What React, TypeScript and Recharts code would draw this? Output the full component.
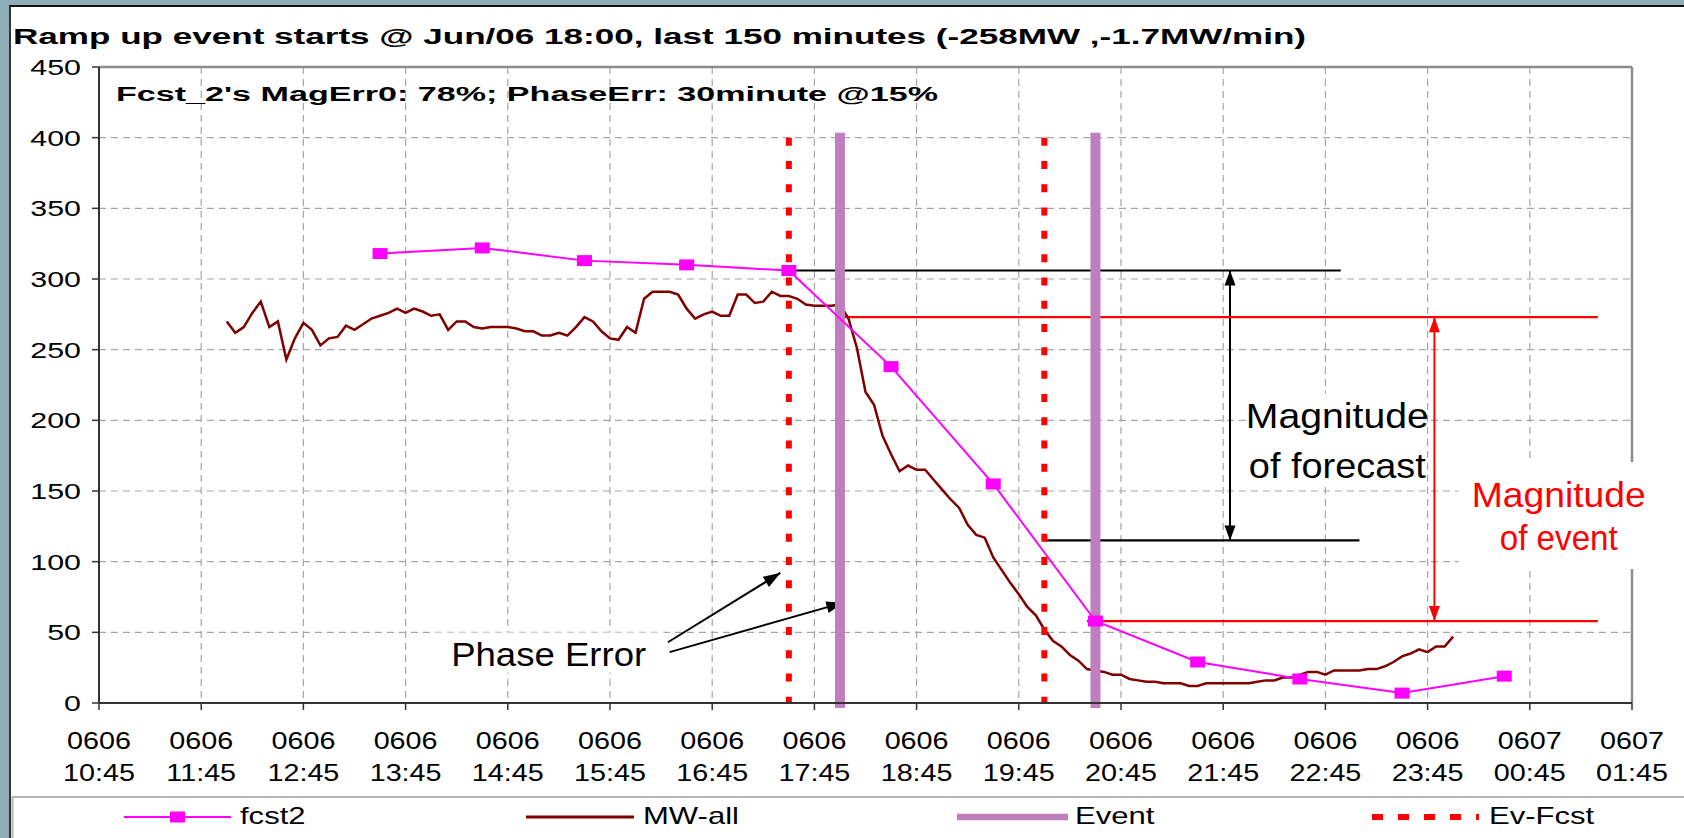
import React from 'react';
import { CartesianGrid, Line, LineChart, ReferenceDot, ReferenceLine, XAxis, YAxis } from 'recharts';

const WIDTH = 1684;
const HEIGHT = 838;
const FONT = "Arial, 'Liberation Sans', Helvetica, sans-serif";

// x axis: one tick per hour, two-line labels
const tickDates = ['0606', '0606', '0606', '0606', '0606', '0606', '0606', '0606', '0606', '0606', '0606', '0606', '0606', '0606', '0607', '0607'];
const tickTimes = ['10:45', '11:45', '12:45', '13:45', '14:45', '15:45', '16:45', '17:45', '18:45', '19:45', '20:45', '21:45', '22:45', '23:45', '00:45', '01:45'];
const yTicks = [0, 50, 100, 150, 200, 250, 300, 350, 400, 450];

// fcst2, hourly
const fcstTimes = ['13:30', '14:30', '15:30', '16:30', '17:30', '18:30', '19:30', '20:30', '21:30', '22:30', '23:30', '00:30'];
const fcstValues = [318, 322, 313, 310, 306, 238, 155, 58, 29, 17, 7, 19];

// MW-all, 5 minute samples starting 12:00
const mwStart = '12:00';
const mwValues = [
  270, 262, 266, 276, 284, 266, 270, 243, 258, 269, 264, 253,
  258, 259, 267, 264, 268, 272, 274, 276, 279, 276, 279, 277,
  274, 275, 264, 270, 270, 266, 265, 266, 266, 266, 265, 263,
  263, 260, 260, 262, 260, 266, 273, 270, 263, 258, 257, 266,
  262, 286, 291, 291, 291, 289, 279, 272, 275, 277, 274, 274,
  289, 289, 283, 284, 291, 288, 288, 286, 282, 281, 281, 281,
  282, 272, 251, 220, 211, 189, 176, 164, 168, 165, 165, 158,
  151, 144, 138, 126, 119, 117, 103, 94, 85, 77, 68, 62,
  52, 44, 40, 34, 30, 24, 23, 22, 20, 20, 17, 16,
  15, 15, 14, 14, 14, 12, 12, 14, 14, 14, 14, 14,
  14, 15, 16, 16, 18, 18, 20, 22, 22, 20, 23, 23,
  23, 23, 24, 24, 26, 29, 33, 35, 38, 36, 40, 40,
  47,
];

// event windows (actual and forecast)
const eventTimes = ['18:00', '20:30'];
const evFcstTimes = ['17:30', '20:00'];
const windowTop = 400;

// annotation levels
const fcstHigh = 306;
const fcstLow = 115;
const eventHigh = 273;
const eventLow = 58;

// minutes after 10:45 (axis origin), wrapping past midnight
const toMin = (hhmm: string) => {
  const [h, m] = hhmm.split(':').map(Number);
  return (h * 60 + m - 645 + 1440) % 1440;
};

const xTicks = tickTimes.map(toMin).map((v, i) => (i === tickTimes.length - 1 ? 900 : v));
const fcstData = fcstTimes.map((t, i) => ({ t: toMin(t), v: fcstValues[i] }));
const mwData = mwValues.map((v, i) => ({ t: toMin(mwStart) + i * 5, v }));

const YTick = (props: any) => {
  const { x, y, payload } = props;
  return (
    <text transform={`translate(${x - 9},${y}) scale(1.38,1)`} dy={8} textAnchor="end" fontSize={22} fontFamily={FONT} fill="#000">
      {payload.value}
    </text>
  );
};

const XTick = (props: any) => {
  const { x, y, payload } = props;
  const idx = xTicks.indexOf(payload.value);
  return (
    <g transform={`translate(${x},${y}) scale(1.25,1)`}>
      <text y={37} textAnchor="middle" fontSize={23} fontFamily={FONT} fill="#000">{tickDates[idx]}</text>
      <text y={69} textAnchor="middle" fontSize={23} fontFamily={FONT} fill="#000">{tickTimes[idx]}</text>
    </g>
  );
};

const arrowShape = (color: string, width: number, both: boolean, len = 15, half = 6) => (p: any) => {
  const { x1, y1, x2, y2 } = p;
  const a = Math.atan2(y2 - y1, x2 - x1);
  const head = (x: number, y: number, ang: number) => {
    const bx = x - len * Math.cos(ang);
    const by = y - len * Math.sin(ang);
    const sx = half * Math.sin(ang);
    const sy = half * Math.cos(ang);
    return `${x},${y} ${bx + sx},${by - sy} ${bx - sx},${by + sy}`;
  };
  return (
    <g>
      <line x1={x1} y1={y1} x2={x2} y2={y2} stroke={color} strokeWidth={width} />
      <polygon points={head(x2, y2, a)} fill={color} />
      {both ? <polygon points={head(x1, y1, a + Math.PI)} fill={color} /> : null}
    </g>
  );
};

type BoxSpec = { left: number; right: number; top: number; bottom: number; lines: string[]; dys: number[]; lengths: number[]; color: string; size: number };

const textBox = (spec: BoxSpec) => (p: any) => {
  const { cx, cy } = p;
  return (
    <g>
      <rect x={cx + spec.left} y={cy + spec.top} width={spec.right - spec.left} height={spec.bottom - spec.top} fill="#fff" />
      {spec.lines.map((line, i) => (
        <text
          key={line}
          x={cx}
          y={cy + spec.dys[i]}
          textAnchor="middle"
          fontSize={spec.size}
          fontFamily={FONT}
          fill={spec.color}
          textLength={spec.lengths[i]}
          lengthAdjust="spacingAndGlyphs"
        >
          {line}
        </text>
      ))}
    </g>
  );
};

const FcstDot = (p: any) => <rect key={p.index} x={p.cx - 7.5} y={p.cy - 5.5} width={15} height={11} fill="#FF00FF" />;

export default function App() {
  return (
    <div style={{ position: 'absolute', left: 0, top: 0, width: WIDTH, height: HEIGHT, background: '#8FADB6', overflow: 'hidden' }}>
      <div style={{ position: 'absolute', left: 9, top: 5, right: 0, bottom: 0, background: '#fff', borderTop: '2px solid #111', borderLeft: '2px solid #333' }} />
      <div style={{ position: 'absolute', left: 0, top: 0 }}>
        <LineChart width={WIDTH} height={HEIGHT} margin={{ top: 67, right: 52, bottom: 55, left: 19 }}>
          <CartesianGrid stroke="#A6A6A6" strokeDasharray="7 5" strokeWidth={1.2} />
          <XAxis
            type="number"
            dataKey="t"
            domain={[0, 900]}
            ticks={xTicks}
            interval={0}
            height={80}
            tickSize={7}
            tick={<XTick />}
            axisLine={{ stroke: '#333', strokeWidth: 2 }}
            tickLine={{ stroke: '#333', strokeWidth: 1.5 }}
          />
          <YAxis
            type="number"
            domain={[0, 450]}
            ticks={yTicks}
            interval={0}
            width={80}
            tickSize={7}
            tick={<YTick />}
            axisLine={{ stroke: '#333', strokeWidth: 2 }}
            tickLine={{ stroke: '#333', strokeWidth: 1.5 }}
          />
          <ReferenceLine y={450} stroke="#8C8C8C" strokeWidth={2.5} ifOverflow="visible" />
          <ReferenceLine x={900} stroke="#8C8C8C" strokeWidth={2.5} ifOverflow="visible" />

          <ReferenceDot
            x={toMin('15:09')}
            y={35}
            ifOverflow="visible"
            shape={textBox({ left: -118, right: 116, top: -21, bottom: 19, lines: ['Phase Error'], dys: [12.5], lengths: [195], color: '#000', size: 34 })}
          />
          <ReferenceDot
            x={toMin('22:52')}
            y={185}
            ifOverflow="visible"
            shape={textBox({ left: -90, right: 88, top: -48, bottom: 44, lines: ['Magnitude', 'of forecast'], dys: [-14, 36.5], lengths: [183, 177], color: '#000', size: 35 })}
          />
          <ReferenceDot
            x={toMin('01:02')}
            y={133}
            ifOverflow="visible"
            shape={textBox({ left: -100, right: 107, top: -53, bottom: 54, lines: ['Magnitude', 'of event'], dys: [-8, 35], lengths: [174, 118], color: '#FF0000', size: 35 })}
          />

          <ReferenceLine segment={[{ x: toMin('17:30'), y: fcstHigh }, { x: toMin('22:54'), y: fcstHigh }]} stroke="#000" strokeWidth={2.2} ifOverflow="visible" />
          <ReferenceLine segment={[{ x: toMin('20:00'), y: fcstLow }, { x: toMin('23:05'), y: fcstLow }]} stroke="#000" strokeWidth={2.2} ifOverflow="visible" />
          <ReferenceLine
            segment={[{ x: toMin('21:49'), y: fcstLow }, { x: toMin('21:49'), y: fcstHigh }]}
            ifOverflow="visible"
            shape={arrowShape('#000', 2, true, 15, 5.5)}
          />
          <ReferenceLine segment={[{ x: toMin('18:00'), y: eventHigh }, { x: toMin('01:25'), y: eventHigh }]} stroke="#FF0000" strokeWidth={2.2} ifOverflow="visible" />
          <ReferenceLine segment={[{ x: toMin('20:25'), y: eventLow }, { x: toMin('01:25'), y: eventLow }]} stroke="#FF0000" strokeWidth={2.2} ifOverflow="visible" />
          <ReferenceLine
            segment={[{ x: toMin('23:49'), y: eventLow }, { x: toMin('23:49'), y: eventHigh }]}
            ifOverflow="visible"
            shape={arrowShape('#FF0000', 2, true, 15, 5.5)}
          />
          <ReferenceLine
            segment={[{ x: toMin('16:19'), y: 43 }, { x: toMin('17:25'), y: 92 }]}
            ifOverflow="visible"
            shape={arrowShape('#000', 2, false, 17, 6)}
          />
          <ReferenceLine
            segment={[{ x: toMin('16:20'), y: 36 }, { x: toMin('18:02'), y: 71 }]}
            ifOverflow="visible"
            shape={arrowShape('#000', 2, false, 17, 6)}
          />

          <Line data={mwData} dataKey="v" name="MW-all" stroke="#800000" strokeWidth={2.5} dot={false} activeDot={false} isAnimationActive={false} />
          {eventTimes.map((tm) => (
            <Line
              key={`ev-${tm}`}
              data={[{ t: toMin(tm), v: windowTop }, { t: toMin(tm), v: 0 }]}
              dataKey="v"
              name="Event"
              stroke="#BF7FBF"
              strokeWidth={10}
              strokeLinecap="square"
              dot={false}
              activeDot={false}
              isAnimationActive={false}
            />
          ))}
          {evFcstTimes.map((tm) => (
            <Line
              key={`evf-${tm}`}
              data={[{ t: toMin(tm), v: windowTop }, { t: toMin(tm), v: 0 }]}
              dataKey="v"
              name="Ev-Fcst"
              stroke="#FF0000"
              strokeWidth={6}
              strokeDasharray="8 15.3"
              dot={false}
              activeDot={false}
              isAnimationActive={false}
            />
          ))}
          <Line data={fcstData} dataKey="v" name="fcst2" stroke="#FF00FF" strokeWidth={2} dot={FcstDot} activeDot={false} isAnimationActive={false} />
        </LineChart>
      </div>

      <svg width={WIDTH} height={HEIGHT} style={{ position: 'absolute', left: 0, top: 0, pointerEvents: 'none' }}>
        <text x={13} y={43.5} fontSize={22} fontWeight="bold" fontFamily={FONT} textLength={1293} lengthAdjust="spacingAndGlyphs">
          Ramp up event starts @ Jun/06 18:00, last 150 minutes (-258MW ,-1.7MW/min)
        </text>
        <text x={116} y={101} fontSize={20} fontWeight="bold" fontFamily={FONT} textLength={822} lengthAdjust="spacingAndGlyphs">
          Fcst_2's MagErr0: 78%; PhaseErr: 30minute @15%
        </text>

        <rect x={12.5} y={797} width={WIDTH} height={60} fill="#fff" stroke="#B4B4B4" strokeWidth={2} />
        <line x1={124} y1={817} x2={231} y2={817} stroke="#FF00FF" strokeWidth={2} />
        <rect x={170} y={811.5} width={15} height={11} fill="#FF00FF" />
        <text transform="translate(240,824) scale(1.35,1)" fontSize={23} fontFamily={FONT}>fcst2</text>
        <line x1={526} y1={817} x2={634} y2={817} stroke="#800000" strokeWidth={3} />
        <text transform="translate(643,824) scale(1.35,1)" fontSize={23} fontFamily={FONT}>MW-all</text>
        <line x1={957} y1={817} x2={1068} y2={817} stroke="#BF7FBF" strokeWidth={6.5} />
        <text transform="translate(1075,824) scale(1.35,1)" fontSize={23} fontFamily={FONT}>Event</text>
        <line x1={1372} y1={817} x2={1479} y2={817} stroke="#FF0000" strokeWidth={6} strokeDasharray="11 15" />
        <text transform="translate(1489,824) scale(1.35,1)" fontSize={23} fontFamily={FONT}>Ev-Fcst</text>
      </svg>
    </div>
  );
}
